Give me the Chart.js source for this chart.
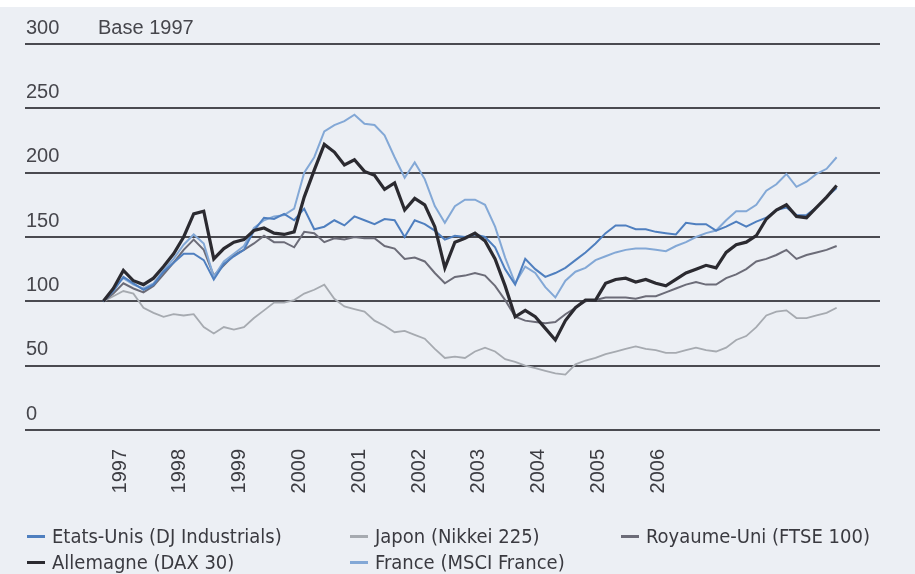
<!DOCTYPE html>
<html>
<head>
<meta charset="utf-8">
<script src="https://cdn.jsdelivr.net/npm/chart.js@4.4.1/dist/chart.umd.min.js"></script>
<style>
  html, body { margin: 0; padding: 0; background: #ffffff; }
  #paper { position: absolute; left: 0; top: 7px; width: 915px; height: 567px; background: #eceff4; }
  #chart { position: absolute; left: 0; top: 0; }
  .leg { position: absolute; font-family: 'Liberation Sans Narrow', 'DejaVu Sans Condensed', 'Liberation Sans', sans-serif;
         font-stretch: condensed; font-size: 20px; color: #3a3a40; white-space: nowrap; line-height: 20px; }
  .leg i { position: absolute; left: -25px; top: 9px; width: 18px; height: 3px; }
</style>
</head>
<body>
<div id="paper"></div>
<canvas id="chart" width="915" height="574"></canvas>

<div class="leg" style="left:52px; top:526px"><i style="background:#4f7fbf"></i>Etats-Unis (DJ Industrials)</div>
<div class="leg" style="left:375px; top:526px"><i style="background:#a6aab0"></i>Japon (Nikkei 225)</div>
<div class="leg" style="left:646px; top:526px"><i style="background:#6c6c78"></i>Royaume-Uni (FTSE 100)</div>
<div class="leg" style="left:52px; top:552px"><i style="background:#2b2a30"></i>Allemagne (DAX 30)</div>
<div class="leg" style="left:375px; top:552px"><i style="background:#83a8d6"></i>France (MSCI France)</div>

<script>
// year tick labels on the x axis
var years = [1997, 1998, 1999, 2000, 2001, 2002, 2003, 2004, 2005, 2006];
// readings every ~2 months, starting late 1996
var startYear = 1996.72;
var stepYears = 0.168;

var allemagne = [100,110,124,116,113,118,127,137,150,168,170,133,141,146,148,155,157,153,152,154,
  181,202,222,216,206,210,201,198,187,192,171,180,175,158,126,146,149,153,147,133,
  112,88,93,88,79,70,85,95,101,101,114,117,118,115,117,114,112,117,122,125,
  128,126,138,144,146,151,164,171,175,166,165,173,181,190];
var etatsUnis = [100,108,119,114,109,113,123,130,137,137,132,117,129,135,140,155,165,164,168,163,
  172,156,158,163,159,166,163,160,164,163,150,163,160,155,148,151,150,152,150,142,
  125,113,133,125,119,122,126,132,138,145,153,159,159,156,156,154,153,152,161,160,
  160,155,158,162,158,162,165,171,173,167,167,173,181,188];
var france = [100,110,118,113,110,114,124,133,144,152,145,119,131,137,143,157,163,166,167,172,
  200,212,232,237,240,245,238,237,229,212,196,208,195,174,161,174,179,179,175,158,
  134,114,127,122,111,103,116,123,126,132,135,138,140,141,141,140,139,143,146,150,
  153,155,163,170,170,175,186,191,199,189,193,199,203,212];
var royaumeUni = [100,106,114,110,107,112,121,130,140,148,140,120,128,136,140,145,151,146,146,142,
  154,153,146,149,148,150,149,149,143,141,133,134,131,122,114,119,120,122,120,112,
  101,88,85,84,83,84,90,95,100,101,103,103,103,102,104,104,107,110,113,115,
  113,113,118,121,125,131,133,136,140,133,136,138,140,143];
var japon = [100,104,108,106,95,91,88,90,89,90,80,75,80,78,80,87,93,99,99,101,
  106,109,113,102,96,94,92,85,81,76,77,74,71,63,56,57,56,61,64,61,
  55,53,50,48,46,44,43,51,54,56,59,61,63,65,63,62,60,60,62,64,
  62,61,64,70,73,80,89,92,93,87,87,89,91,95];

function points(values) {
  return values.map(function (v, i) {
    return { x: startYear + i * stepYears, y: v };
  });
}

function series(label, values, color, width, order) {
  return {
    label: label,
    data: points(values),
    borderColor: color,
    borderWidth: width,
    pointRadius: 0,
    tension: 0,
    fill: false,
    order: order
  };
}

var baseLabel = {
  id: 'baseLabel',
  afterDraw: function (chart) {
    var ctx = chart.ctx;
    var y = chart.scales.y.getPixelForValue(300) - 16;
    ctx.save();
    ctx.font = '20px "Liberation Sans", Arial, sans-serif';
    ctx.fillStyle = '#46464c';
    ctx.textBaseline = 'middle';
    ctx.fillText('Base 1997', chart.chartArea.left + 73, y);
    ctx.restore();
  }
};

new Chart(document.getElementById('chart'), {
  type: 'line',
  data: {
    datasets: [
      series('Allemagne (DAX 30)', allemagne, '#2b2a30', 3.2, 0),
      series('Etats-Unis (DJ Industrials)', etatsUnis, '#4f7fbf', 2, 1),
      series('France (MSCI France)', france, '#83a8d6', 2, 2),
      series('Royaume-Uni (FTSE 100)', royaumeUni, '#6c6c78', 2, 3),
      series('Japon (Nikkei 225)', japon, '#a6aab0', 1.8, 4)
    ]
  },
  options: {
    responsive: false,
    animation: false,
    layout: { padding: { left: 25, right: 35, top: 44, bottom: 0 } },
    plugins: { legend: { display: false }, tooltip: { enabled: false } },
    scales: {
      x: {
        type: 'linear',
        min: 1995.411,
        max: 2009.709,
        afterBuildTicks: function (s) {
          s.ticks = years.map(function (y) { return { value: y }; });
        },
        afterFit: function (s) { s.height = 144; },
        grid: { display: false },
        border: { display: false },
        ticks: {
          minRotation: 90,
          maxRotation: 90,
          padding: 11,
          color: '#3c3c42',
          font: { family: '"Liberation Sans", Arial, sans-serif', size: 20 },
          callback: function (v) { return String(v); }
        }
      },
      y: {
        min: 0,
        max: 300,
        afterFit: function (s) { s.width = 0; },
        grid: { color: '#4a4a50', lineWidth: 2, drawTicks: false },
        border: { display: false },
        ticks: {
          stepSize: 50,
          mirror: true,
          padding: 1,
          labelOffset: -16,
          color: '#46464c',
          font: { family: '"Liberation Sans", Arial, sans-serif', size: 20 }
        }
      }
    }
  },
  plugins: [baseLabel]
});
</script>
</body>
</html>
